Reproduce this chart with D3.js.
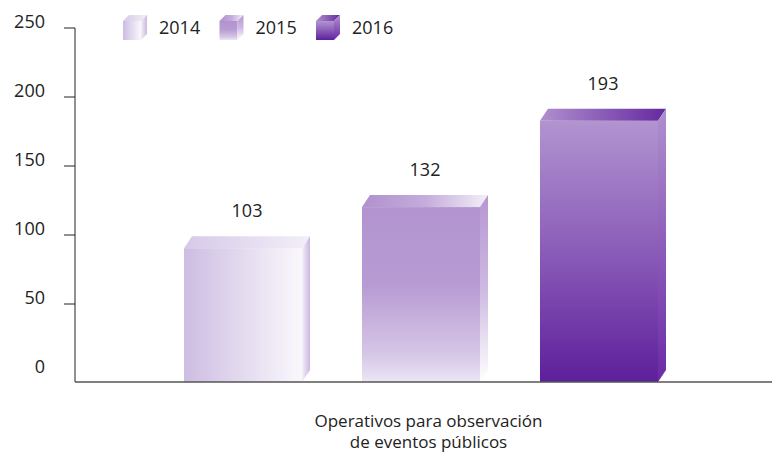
<!DOCTYPE html>
<html>
<head>
<meta charset="utf-8">
<script src="https://cdn.jsdelivr.net/npm/d3@7"></script>
<style>
  body { margin: 0; background: #fff; }
  text { font-family: "Open Sans", "Noto Sans", sans-serif; fill: #222; }
</style>
</head>
<body>
<div class="container"></div>
<script>
var categories = ["Operativos para observación de eventos públicos"];
var series = ["2014", "2015", "2016"];
var values = [103, 132, 193];
var yTicks = [0, 50, 100, 150, 200, 250];

var width = 772,
    height = 452;

var svg = d3.select('.container')
    .append('svg')
    .attr('width', width)
    .attr('height', height);

var defs = svg.append('defs');

// gradients for front / top / side faces of each series
function grad(id, x2, y2, stops) {
    var g = defs.append('linearGradient')
        .attr('id', id)
        .attr('x1', 0).attr('y1', 0)
        .attr('x2', x2).attr('y2', y2);
    stops.forEach(function(s) {
        g.append('stop').attr('offset', s[0]).attr('stop-color', s[1]);
    });
}
var faces = [
    { front: [1, 0, [[0, '#cdbde2'], [1, '#faf8fc']]],
      top:   [1, 0, [[0, '#d6c9e8'], [1, '#f3eff8']]],
      side:  [1, 0, [[0, '#f4f0f8'], [1, '#c9b7e0']]] },
    { front: [0, 1, [[0, '#b293cf'], [0.45, '#b89bd3'], [0.85, '#d6c8e7'], [1, '#ece6f4']]],
      top:   [1, 0, [[0, '#b090ce'], [0.5, '#c4acdb'], [1, '#f3eff8']]],
      side:  [0, 1, [[0, '#b796d2'], [0.5, '#cdb9e1'], [1, '#ffffff']]] },
    { front: [0, 1, [[0, '#b294d0'], [0.5, '#8a5cb8'], [1, '#5e1f9b']]],
      top:   [1, 0, [[0, '#b08fce'], [1, '#6529a0']]],
      side:  [0, 1, [[0, '#b090cf'], [1, '#6a2aa5']]] }
];
faces.forEach(function(f, i) {
    grad('front' + i, f.front[0], f.front[1], f.front[2]);
    grad('top' + i, f.top[0], f.top[1], f.top[2]);
    grad('side' + i, f.side[0], f.side[1], f.side[2]);
});

var axisX = 75, baseY = 382;

// scale for tick labels and a slightly deeper one for the 3d bars
var y = d3.scaleLinear().domain([0, 250]).range([373, 28]);
var yBar = d3.scaleLinear().domain([0, 250]).range([baseY, 28]);

var x0 = d3.scaleBand().domain(categories).range([axisX, width]);
var x1 = d3.scaleBand().domain(series)
    .range([184, 658])
    .paddingInner(0.337);

var depthX = 8, depthY = 12;

// y axis
var yAxis = svg.append('g');
yAxis.append('line')
    .attr('x1', axisX).attr('x2', axisX)
    .attr('y1', y(250)).attr('y2', baseY)
    .attr('stroke', '#222').attr('stroke-width', 1);
yAxis.selectAll('.tick')
    .data(yTicks.filter(function(d) { return d > 0; }))
    .enter().append('line')
    .attr('x1', 64).attr('x2', axisX)
    .attr('y1', function(d) { return y(d); })
    .attr('y2', function(d) { return y(d); })
    .attr('stroke', '#222');
yAxis.selectAll('.lbl')
    .data(yTicks)
    .enter().append('text')
    .attr('x', 45)
    .attr('y', function(d) { return y(d) - 6; })
    .attr('dy', '0.35em')
    .attr('text-anchor', 'end')
    .style('font-size', '18px')
    .text(function(d) { return d; });

// bars
var bars = svg.append('g');
series.forEach(function(s, i) {
    var v = values[i];
    var xl = x1(s), xr = xl + x1.bandwidth();
    var top = yBar(v) + depthY; // front face top
    var g = bars.append('g');
    g.append('rect')
        .attr('x', xl).attr('y', top)
        .attr('width', x1.bandwidth()).attr('height', baseY - top)
        .attr('fill', 'url(#front' + i + ')');
    g.append('path')
        .attr('d', 'M' + xl + ',' + top + 'L' + (xl + depthX) + ',' + (top - depthY) +
            'L' + (xr + depthX) + ',' + (top - depthY) + 'L' + xr + ',' + top + 'Z')
        .attr('fill', 'url(#top' + i + ')');
    g.append('path')
        .attr('d', 'M' + xr + ',' + top + 'L' + (xr + depthX) + ',' + (top - depthY) +
            'L' + (xr + depthX) + ',' + (baseY - depthY) + 'L' + xr + ',' + baseY + 'Z')
        .attr('fill', 'url(#side' + i + ')');
    g.append('text')
        .attr('x', (xl + xr + depthX) / 2)
        .attr('y', yBar(v) - 25)
        .attr('dy', '0.35em')
        .attr('text-anchor', 'middle')
        .style('font-size', '18px')
        .text(v);
});

// baseline
svg.append('line')
    .attr('x1', axisX).attr('x2', width)
    .attr('y1', baseY).attr('y2', baseY)
    .attr('stroke', '#555').attr('stroke-width', 1.5);

// category label, two lines
var cx = x0(categories[0]) + x0.bandwidth() / 2 + 5;
var catLines = ['Operativos para observación', 'de eventos públicos'];
svg.selectAll('.cat')
    .data(catLines)
    .enter().append('text')
    .attr('x', cx)
    .attr('y', function(d, i) { return 421 + i * 21; })
    .attr('dy', '0.35em')
    .attr('text-anchor', 'middle')
    .style('font-size', '17px')
    .text(function(d) { return d; });

// legend
var legend = svg.append('g').attr('transform', 'translate(123,0)');
series.forEach(function(s, i) {
    var lg = legend.append('g').attr('transform', 'translate(' + (i * 96.5) + ',0)');
    var fx = 0, fy = 21, fw = 18, fh = 19, d = 6;
    lg.append('rect').attr('x', fx).attr('y', fy).attr('width', fw).attr('height', fh)
        .attr('fill', 'url(#front' + i + ')');
    lg.append('path')
        .attr('d', 'M' + fx + ',' + fy + 'L' + (fx + d) + ',' + (fy - d) + 'L' + (fx + fw + d) + ',' + (fy - d) +
            'L' + (fx + fw) + ',' + fy + 'Z')
        .attr('fill', 'url(#top' + i + ')');
    lg.append('path')
        .attr('d', 'M' + (fx + fw) + ',' + fy + 'L' + (fx + fw + d) + ',' + (fy - d) + 'L' + (fx + fw + d) + ',' + (fy + fh - d) +
            'L' + (fx + fw) + ',' + (fy + fh) + 'Z')
        .attr('fill', 'url(#side' + i + ')');
    lg.append('text')
        .attr('x', 36).attr('y', 27.5)
        .attr('dy', '0.35em')
        .style('font-size', '18px')
        .text(s);
});
</script>
</body>
</html>
